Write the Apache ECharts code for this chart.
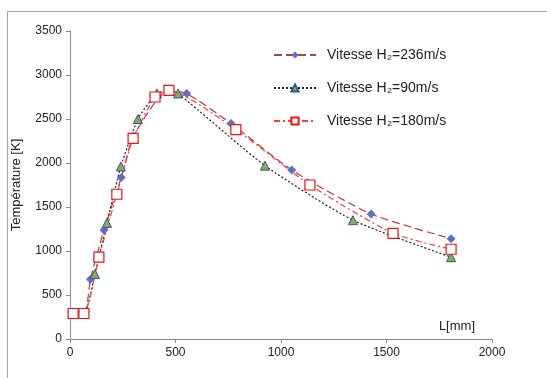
<!DOCTYPE html>
<html><head><meta charset="utf-8">
<script src="https://cdn.jsdelivr.net/npm/echarts@6/dist/echarts.min.js"></script>
<style>html,body{margin:0;padding:0;background:#fff}#c{width:547px;height:378px}</style>
</head><body><div id="c"></div>
<script>
var seriesNames = ['Vitesse H\u2082=236m/s', 'Vitesse H\u2082=90m/s', 'Vitesse H\u2082=180m/s'];
var v236 = [[10,290],[70,300],[97,680],[161,1240],[243,1835],[300,2300],[465,2820],[553,2790],[763,2450],[1051,1920],[1427,1420],[1806,1140]];
var v90 = [[15,290],[66,290],[118,740],[175,1320],[241,1960],[322,2500],[412,2790],[469,2820],[512,2790],[924,1970],[1341,1350],[1806,930]];
var v180 = [[15,290],[66,290],[137,930],[222,1645],[299,2280],[403,2750],[469,2825],[786,2380],[1137,1750],[1531,1200],[1806,1020]];
var xTicks = [0, 500, 1000, 1500, 2000];
var yTicks = [0, 500, 1000, 1500, 2000, 2500, 3000, 3500];

var chart = echarts.init(document.getElementById('c'));
var font = 'Liberation Sans, Arial, sans-serif';
chart.setOption({
  animation: false,
  graphic: [{type:'rect', shape:{x:7.5,y:11.5,width:600,height:400}, style:{fill:'none', stroke:'#a6a6a6', lineWidth:1}, silent:true}],
  grid: {left: 70, right: 55, top: 31, bottom: 39},
  legend: {
    orient: 'vertical', left: 268, top: 43, itemWidth: 42, itemHeight: 9, itemGap: 19,
    textStyle: {fontFamily: font, fontSize: 14, color: '#222', padding:[0,0,0,6]},
    data: seriesNames
  },
  xAxis: {
    type: 'value', min: xTicks[0], max: xTicks[xTicks.length-1], interval: 500,
    name: 'L[mm]', nameLocation: 'end', nameGap: 0,
    nameTextStyle: {fontFamily: font, fontSize: 13, color: '#222', align: 'right', verticalAlign: 'bottom', padding: [0, 17, 6, 0]},
    axisLine: {lineStyle: {color: '#8c8c8c'}},
    axisTick: {show: true, length: 4, lineStyle: {color: '#8c8c8c'}},
    axisLabel: {fontFamily: font, fontSize: 12, color: '#222', margin: 8, formatter: function(v){return String(v);}},
    splitLine: {show: false}
  },
  yAxis: {
    type: 'value', min: yTicks[0], max: yTicks[yTicks.length-1], interval: 500,
    name: 'Température [K]', nameLocation: 'middle', nameGap: 47, nameRotate: 90,
    nameTextStyle: {fontFamily: font, fontSize: 13, color: '#222'},
    axisLine: {show: true, lineStyle: {color: '#8c8c8c'}},
    axisTick: {show: true, length: 4, lineStyle: {color: '#8c8c8c'}},
    axisLabel: {fontFamily: font, fontSize: 12, color: '#222', margin: 8, formatter: function(v){return String(v);}},
    splitLine: {show: false}
  },
  series: [
    {name: seriesNames[0], type: 'line', data: v236, smooth: 0.2,
     symbol: 'diamond', symbolSize: 9,
     lineStyle: {color: '#b0423f', width: 1.2, type: [8, 4]},
     itemStyle: {color: '#5b72c4', borderColor: '#5b72c4', borderWidth: 0}},
    {name: seriesNames[1], type: 'line', data: v90, smooth: 0.2,
     symbol: 'triangle', symbolSize: 9,
     lineStyle: {color: '#222', width: 1.2, type: [2, 2]},
     itemStyle: {color: '#8aae4e', borderColor: '#2f5597', borderWidth: 1}},
    {name: seriesNames[2], type: 'line', data: v180, smooth: 0.2,
     symbol: 'rect', symbolSize: 10,
     lineStyle: {color: '#ff3b3b', width: 1.2, type: [6, 3, 2, 3]},
     itemStyle: {color: '#ffffff', borderColor: '#ee1111', borderWidth: 1.2}}
  ]
});
</script></body></html>
